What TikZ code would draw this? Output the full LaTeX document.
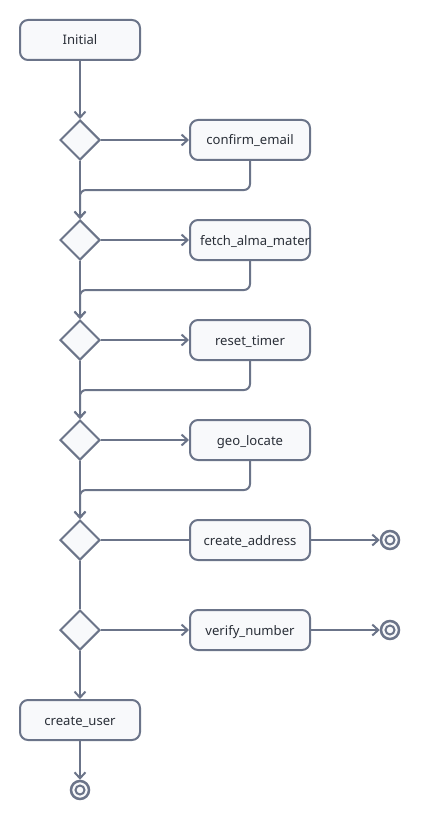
\documentclass[tikz,border=0pt]{standalone}
\usepackage{fontspec}
\setmainfont{Noto Sans}
\usetikzlibrary{shapes.geometric,arrows.meta,positioning}
\definecolor{edgec}{HTML}{6B7489}
\definecolor{fillc}{HTML}{F8F9FB}
\definecolor{textc}{HTML}{2A2F38}
\tikzset{
  stepbox/.style={draw=edgec, fill=fillc, line width=2pt, rounded corners=8pt, minimum width=120pt, minimum height=40pt, inner sep=0pt, text=textc, font=\fontsize{13.1}{15}\selectfont, text height=10pt, text depth=0pt},
  widebox/.style={stepbox, text width=100pt, align=left},
  choice/.style={draw=edgec, fill=fillc, line width=2pt, diamond, aspect=1, minimum width=40pt, minimum height=40pt, inner sep=0pt},
  finalnode/.style={draw=edgec, fill=fillc, line width=2.5pt, circle, minimum size=18pt, inner sep=0pt,
    path picture={\draw[edgec, line width=2pt] (path picture bounding box.center) circle (4.5pt);}},
  flow/.style={draw=edgec, line width=2pt, -{Straight Barb[length=6pt,width=11pt,line width=2pt]}},
  plainflow/.style={draw=edgec, line width=2pt},
  back/.style={draw=edgec, line width=2pt, rounded corners=6pt, -{Straight Barb[length=6pt,width=11pt,line width=2pt]}}
}
\begin{document}
\begin{tikzpicture}[x=1pt,y=-1pt]
\useasboundingbox (0,0) rectangle (420,821);
\node[stepbox] (init) at (80,40) {Initial};
\node[choice] (d1) at (80,140) {};
\node[choice] (d2) at (80,240) {};
\node[choice] (d3) at (80,340) {};
\node[choice] (d4) at (80,440) {};
\node[choice] (d5) at (80,540) {};
\node[choice] (d6) at (80,630) {};
\node[stepbox] (b1) at (250,140) {confirm\_email};
\node[widebox] (b2) at (250,240) {fetch\_alma\_mater};
\node[stepbox] (b3) at (250,340) {reset\_timer};
\node[stepbox] (b4) at (250,440) {geo\_locate};
\node[stepbox] (b5) at (250,540) {create\_address};
\node[stepbox] (b6) at (250,630) {verify\_number};
\node[stepbox] (cu) at (80,720) {create\_user};
\node[finalnode] (f5) at (390,540) {};
\node[finalnode] (f6) at (390,630) {};
\node[finalnode] (fu) at (80,790) {};
\coordinate (m1) at (80,190);
\coordinate (m2) at (80,290);
\coordinate (m3) at (80,390);
\coordinate (m4) at (80,490);
\draw[flow] (init) -- (d1.north);
\draw[flow] (d1) -- (b1);
\draw[flow] (d1) -- (d2.north);
\draw[back] (b1.south) |- (m1) -- (d2.north);
\draw[flow] (d2) -- (b2);
\draw[flow] (d2) -- (d3.north);
\draw[back] (b2.south) |- (m2) -- (d3.north);
\draw[flow] (d3) -- (b3);
\draw[flow] (d3) -- (d4.north);
\draw[back] (b3.south) |- (m3) -- (d4.north);
\draw[flow] (d4) -- (b4);
\draw[flow] (d4) -- (d5.north);
\draw[back] (b4.south) |- (m4) -- (d5.north);
\draw[plainflow] (d5) -- (b5);
\draw[flow] (b5) -- (f5);
\draw[plainflow] (d5) -- (d6);
\draw[flow] (d6) -- (b6);
\draw[flow] (b6) -- (f6);
\draw[flow] (d6) -- (cu);
\draw[flow] (cu) -- (fu);
\end{tikzpicture}
\end{document}
